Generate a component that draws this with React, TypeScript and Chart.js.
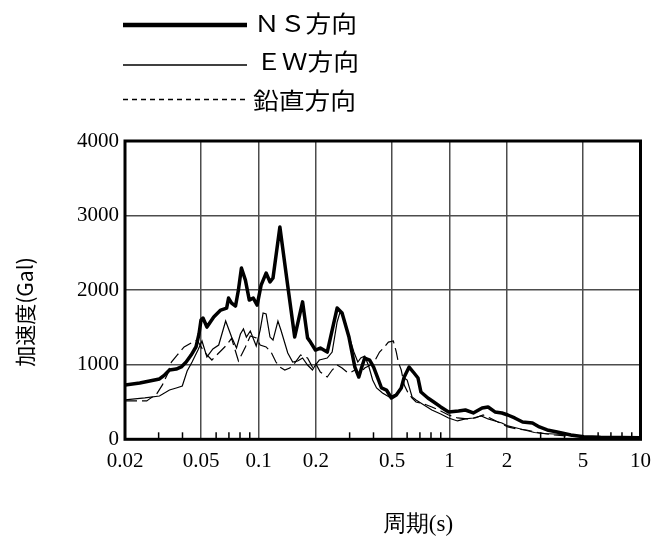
import React, { useEffect, useRef } from "react";
import { Chart, registerables } from "chart.js";

Chart.register(...registerables);

// ---- data (period [s], acceleration [Gal]) ----
const nsPeriod = [
  0.02, 0.0239, 0.0303, 0.0322, 0.0342, 0.0371, 0.0394, 0.0418, 0.0444, 0.0471,
  0.0488, 0.05, 0.0512, 0.0537, 0.0583, 0.0634, 0.0681, 0.0697, 0.0723, 0.0758,
  0.0785, 0.0814, 0.0854, 0.0895, 0.0939, 0.0984, 0.1032, 0.1096, 0.1149, 0.1191,
  0.1294, 0.1423, 0.1547, 0.1701, 0.1806, 0.1871, 0.1986, 0.2107, 0.229, 0.258,
  0.2738, 0.2976, 0.3196, 0.3351, 0.3474, 0.3598, 0.3819, 0.4006, 0.4252, 0.4406,
  0.4676, 0.4962, 0.5266, 0.5589, 0.5793, 0.6146, 0.6522, 0.684, 0.7088, 0.7704,
  0.8274, 0.8996, 0.9888, 1.114, 1.211, 1.332, 1.482, 1.592, 1.73, 1.88,
  2.019, 2.194, 2.414, 2.719, 2.954, 3.248, 3.66, 4.322, 5.046, 6.176, 9.94,
];
const nsAccel = [
  728, 755, 809, 862, 929, 942, 970, 1036, 1130, 1241,
  1412, 1600, 1626, 1505, 1640, 1733, 1760, 1894, 1827, 1787,
  2002, 2296, 2135, 1867, 1894, 1800, 2068, 2229, 2109, 2162,
  2846, 2055, 1373, 1843, 1360, 1304, 1197, 1224, 1170, 1760,
  1693, 1371, 969, 835, 969, 1090, 1063, 969, 795, 688,
  661, 554, 594, 688, 835, 969, 889, 822, 634, 554,
  500, 434, 367, 380, 393, 353, 420, 433, 367, 353,
  326, 286, 232, 219, 166, 125, 98, 58, 35, 27, 21,
];

const ewPeriod = [
  0.02, 0.0254, 0.0303, 0.0342, 0.0371, 0.0399, 0.0423, 0.0449, 0.0482, 0.0506,
  0.0537, 0.0577, 0.0619, 0.0673, 0.0723, 0.0767, 0.0804, 0.0834, 0.0864, 0.0906,
  0.0973, 0.102, 0.1057, 0.1096, 0.1149, 0.1191, 0.1264, 0.131, 0.1423, 0.151,
  0.1603, 0.1701, 0.1806, 0.1916, 0.1986, 0.2082, 0.229, 0.243, 0.258, 0.2673,
  0.2804, 0.2976, 0.3158, 0.3311, 0.3432, 0.3598, 0.3774, 0.3959, 0.4151, 0.4458,
  0.4845, 0.5266, 0.5589, 0.5793, 0.6003, 0.637, 0.668, 0.7348, 0.8083, 0.8996,
  0.9888, 1.101, 1.211, 1.332, 1.465, 1.592, 1.73, 1.88, 2.019, 2.248,
  2.472, 2.784, 3.134, 3.532, 4.222, 5.046, 6.402, 9.94,
];
const ewAccel = [
  529, 555, 581, 661, 688, 714, 916, 1036, 1197, 1318,
  1104, 1211, 1264, 1586, 1371, 1224, 1412, 1479, 1371, 1452,
  1251, 1465, 1693, 1680, 1371, 1331, 1586, 1465, 1157, 1036,
  1050, 1090, 996, 929, 996, 1063, 1090, 1170, 1573, 1706,
  1626, 1386, 1171, 1036, 1090, 1117, 983, 795, 688, 621,
  567, 608, 701, 822, 795, 567, 527, 460, 393, 340,
  286, 246, 273, 286, 313, 273, 246, 219, 179, 152,
  125, 91, 78, 71, 58, 38, 27, 20,
];

const vtPeriod = [
  0.02, 0.026, 0.0269, 0.0293, 0.0314, 0.0334, 0.035, 0.0376, 0.0408, 0.0444,
  0.0477, 0.0506, 0.0537, 0.057, 0.0605, 0.0642, 0.0681, 0.0723, 0.0785, 0.0814,
  0.0854, 0.0906, 0.0973, 0.102, 0.1096, 0.1163, 0.1234, 0.1294, 0.1373, 0.1457,
  0.1547, 0.1661, 0.1806, 0.1916, 0.1986, 0.2107, 0.229, 0.243, 0.258, 0.2738,
  0.2906, 0.3012, 0.3196, 0.3351, 0.3598, 0.3774, 0.4006, 0.4302, 0.4566, 0.4788,
  0.5082, 0.5266, 0.5394, 0.5589, 0.5793, 0.6074, 0.637, 0.668, 0.7348, 0.8083,
  0.8996, 0.9888, 1.101, 1.24, 1.364, 1.5, 1.63, 1.793, 2.019, 2.248,
  2.532, 2.954, 3.532, 4.48, 6.03, 9.94,
];
const vtAccel = [
  515, 515, 542, 609, 729, 876, 1036, 1131, 1239, 1292,
  1332, 1220, 1131, 1063, 1131, 1197, 1264, 1354, 1050, 1131,
  1239, 1385, 1359, 1264, 1239, 1170, 1036, 969, 929, 956,
  1023, 1131, 1090, 969, 1023, 902, 835, 929, 996, 956,
  902, 889, 929, 862, 956, 983, 1023, 1170, 1239, 1304,
  1318, 1170, 1036, 929, 728, 621, 554, 500, 474, 434,
  380, 326, 286, 273, 286, 326, 286, 233, 166, 139,
  125, 85, 58, 38, 27, 20,
];

const xTickValues = [0.02, 0.05, 0.1, 0.2, 0.5, 1, 2, 5, 10];
const xTickLabels = ["0.02", "0.05", "0.1", "0.2", "0.5", "1", "2", "5", "10"];
const xMinorTicks = [0.03, 0.04, 0.06, 0.07, 0.08, 0.09, 0.3, 0.4, 0.6, 0.7, 0.8, 0.9, 3, 4, 6, 7, 8, 9];
const yTickValues = [0, 1000, 2000, 3000, 4000];
const yTickLabels = ["0", "1000", "2000", "3000", "4000"];

const legendLabels = ["ＮＳ方向", "ＥＷ方向", "鉛直方向"];
const xTitle = "周期(s)";
const yTitle = "加速度(Gal)";

const W = 661;
const H = 538;
const serif = '"Liberation Serif", "Times New Roman", serif';
const gothic = '"Noto Sans CJK JP", "Noto Sans", sans-serif';

function pts(px: number[], py: number[]) {
  return px.map((p, i) => ({ x: p, y: py[i] }));
}

const decorPlugin = {
  id: "decor",
  afterDraw(chart: any) {
    const { ctx, chartArea } = chart;
    const xs = chart.scales.x;
    const { left, right, top, bottom } = chartArea;
    ctx.save();

    // minor ticks (inside, from bottom)
    ctx.strokeStyle = "#000";
    ctx.lineWidth = 1.5;
    xMinorTicks.forEach((v) => {
      const px = xs.getPixelForValue(v);
      ctx.beginPath();
      ctx.moveTo(px, bottom);
      ctx.lineTo(px, bottom - 7);
      ctx.stroke();
    });

    // frame
    ctx.lineWidth = 3;
    ctx.strokeStyle = "#000";
    ctx.strokeRect(left, top, right - left, bottom - top);

    // legend
    const rows = [
      { y: 25, ty: 23.5, w: 4.5, dash: [] as number[], tx: 254 },
      { y: 65, ty: 61.5, w: 1.5, dash: [] as number[], tx: 256 },
      { y: 99.5, ty: 100, w: 1.5, dash: [5, 4], tx: 253 },
    ];
    rows.forEach((r, i) => {
      ctx.beginPath();
      ctx.setLineDash(r.dash);
      ctx.lineWidth = r.w;
      ctx.strokeStyle = "#000";
      ctx.moveTo(123, r.y);
      ctx.lineTo(247, r.y);
      ctx.stroke();
      ctx.setLineDash([]);
      ctx.save();
      ctx.translate(r.tx, r.ty);
      ctx.scale(1.12, 1);
      ctx.fillStyle = "#000";
      ctx.font = `23px ${gothic}`;
      ctx.textAlign = "left";
      ctx.textBaseline = "middle";
      ctx.fillText(legendLabels[i], 0, 0);
      ctx.restore();
    });

    // y title
    ctx.save();
    ctx.translate(25, 312);
    ctx.rotate(-Math.PI / 2);
    ctx.fillStyle = "#000";
    ctx.font = `21px ${gothic}`;
    ctx.textAlign = "center";
    ctx.textBaseline = "middle";
    ctx.fillText(yTitle, 0, 0);
    ctx.restore();

    // x title
    ctx.fillStyle = "#000";
    ctx.font = `23px ${serif}`;
    ctx.textAlign = "center";
    ctx.textBaseline = "middle";
    ctx.fillText(xTitle, 418, 525);

    ctx.restore();
  },
};

export default function App() {
  const ref = useRef<HTMLCanvasElement | null>(null);
  useEffect(() => {
    if (!ref.current) return;
    const gridColor = "#4d4d4d";
    const chart = new Chart(ref.current, {
      type: "line",
      data: {
        datasets: [
          {
            label: legendLabels[0],
            data: pts(nsPeriod, nsAccel),
            borderColor: "#000",
            borderWidth: 3.5,
            pointRadius: 0,
            borderJoinStyle: "round",
            tension: 0,
          },
          {
            label: legendLabels[1],
            data: pts(ewPeriod, ewAccel),
            borderColor: "#000",
            borderWidth: 1.2,
            pointRadius: 0,
            tension: 0,
          },
          {
            label: legendLabels[2],
            data: pts(vtPeriod, vtAccel),
            borderColor: "#000",
            borderWidth: 1.2,
            borderDash: [12, 5],
            pointRadius: 0,
            tension: 0,
          },
        ],
      },
      options: {
        animation: false,
        responsive: true,
        maintainAspectRatio: false,
        parsing: false as any,
        layout: { padding: { top: 141, right: 13.5, left: 0, bottom: 0 } },
        plugins: {
          legend: { display: false },
          tooltip: { enabled: false },
          title: { display: false },
        },
        scales: {
          x: {
            type: "logarithmic",
            min: 0.02,
            max: 10,
            afterBuildTicks: (s: any) => {
              s.ticks = xTickValues.map((v) => ({ value: v }));
            },
            afterFit: (s: any) => {
              s.height = H - 439.3;
            },
            ticks: {
              autoSkip: false,
              maxRotation: 0,
              minRotation: 0,
              padding: 10,
              color: "#000",
              font: { family: serif, size: 21 },
              callback: (_v: any, i: number) => xTickLabels[i],
            },
            grid: {
              drawTicks: false,
              lineWidth: 1.5,
              color: (c: any) =>
                c.tick && (c.tick.value === 0.02 || c.tick.value === 10) ? "rgba(0,0,0,0)" : gridColor,
            },
            border: { display: false },
          },
          y: {
            type: "linear",
            min: 0,
            max: 4000,
            afterBuildTicks: (s: any) => {
              s.ticks = yTickValues.map((v) => ({ value: v }));
            },
            afterFit: (s: any) => {
              s.width = 125;
            },
            ticks: {
              padding: 6,
              color: "#000",
              font: { family: serif, size: 21 },
              callback: (_v: any, i: number) => yTickLabels[i],
            },
            grid: {
              drawTicks: false,
              lineWidth: 1.5,
              color: (c: any) =>
                c.tick && (c.tick.value === 0 || c.tick.value === 4000) ? "rgba(0,0,0,0)" : gridColor,
            },
            border: { display: false },
          },
        },
      },
      plugins: [decorPlugin],
    } as any);
    return () => chart.destroy();
  }, []);

  return (
    <div style={{ position: "absolute", left: 0, top: 0, width: W, height: H, background: "#fff" }}>
      <canvas ref={ref} />
    </div>
  );
}
